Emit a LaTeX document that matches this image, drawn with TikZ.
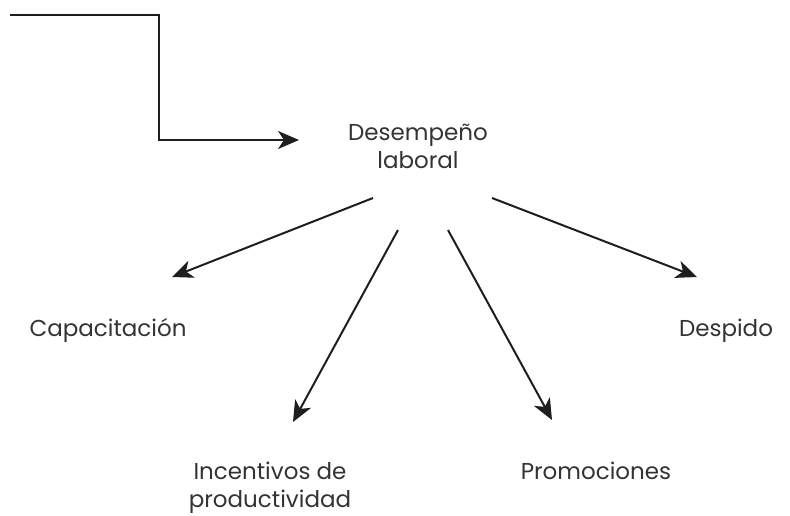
\documentclass[tikz,border=0pt]{standalone}
\usepackage{fontspec}
\setmainfont{Poppins}
\usetikzlibrary{arrows.meta}
\definecolor{txt}{HTML}{333333}
\definecolor{ln}{HTML}{1E1E1E}
\begin{document}
\begin{tikzpicture}[x=1pt,y=-1pt,
  lbl/.style={inner sep=0pt,text=txt,font=\fontsize{23}{28}\selectfont,align=center},
  conn/.style={draw=ln,line width=2pt,-{Stealth[length=21pt,width=18pt,inset=6pt]}}]
\useasboundingbox (0,0) rectangle (790,516);
\coordinate (start) at (10,15);
\coordinate (bend1) at (159,15);
\coordinate (bend2) at (159,140);
\coordinate (tipA) at (299,140);
\node[lbl,anchor=base] (des) at (418,168) {Desempeño\\laboral};
\node[lbl,anchor=base] (cap) at (108,336) {Capacitación};
\node[lbl,anchor=base] (dsp) at (726,336) {Despido};
\node[lbl,anchor=base] (inc) at (270,507) {Incentivos de\\productividad};
\node[lbl,anchor=base] (pro) at (596,479) {Promociones};
\coordinate (s1) at (373,198); \coordinate (t1) at (172,277);
\coordinate (s2) at (398,230); \coordinate (t2) at (293,422);
\coordinate (s3) at (448,230); \coordinate (t3) at (552,420);
\coordinate (s4) at (492,198); \coordinate (t4) at (697,277);
\draw[conn] (start) -- (bend1) -- (bend2) -- (tipA);
\draw[conn] (s1) -- (t1);
\draw[conn] (s2) -- (t2);
\draw[conn] (s3) -- (t3);
\draw[conn] (s4) -- (t4);
\end{tikzpicture}
\end{document}
